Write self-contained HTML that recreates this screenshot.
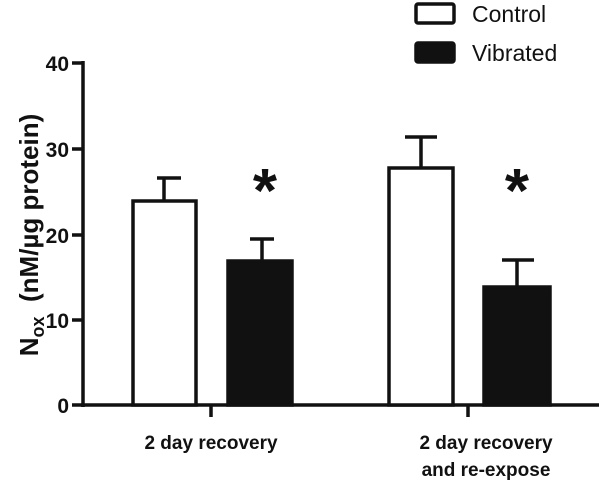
<!DOCTYPE html>
<html><head><meta charset="utf-8"><style>
html,body{margin:0;padding:0;background:#fff;}
svg{display:block;}
text{font-family:"Liberation Sans",sans-serif;fill:#111;}
</style></head><body>
<svg width="600" height="488" viewBox="0 0 600 488">
<g stroke="#111" stroke-width="3.5" fill="none">
<line x1="83" y1="61" x2="83" y2="407"/>
<line x1="81" y1="405" x2="599" y2="405"/>
<line x1="72" y1="63" x2="83" y2="63"/>
<line x1="72" y1="149" x2="83" y2="149"/>
<line x1="72" y1="235" x2="83" y2="235"/>
<line x1="72" y1="320" x2="83" y2="320"/>
<line x1="72" y1="405" x2="83" y2="405"/>
<line x1="211" y1="405" x2="211" y2="417"/>
<line x1="468" y1="405" x2="468" y2="417"/>
<line x1="164" y1="201" x2="164" y2="178"/><line x1="157" y1="178" x2="181" y2="178"/>
<line x1="262" y1="260" x2="262" y2="239"/><line x1="250" y1="239" x2="274" y2="239"/>
<line x1="421" y1="168" x2="421" y2="137"/><line x1="405" y1="137" x2="437" y2="137"/>
<line x1="517" y1="286" x2="517" y2="260"/><line x1="502" y1="260" x2="534" y2="260"/>
<rect x="133" y="201" width="63" height="204" fill="#fff"/>
<rect x="228" y="261" width="64" height="144" fill="#111"/>
<rect x="389" y="168" width="64" height="237" fill="#fff"/>
<rect x="484" y="287" width="66" height="118" fill="#111"/>
<rect x="416" y="4" width="38" height="19" rx="2" fill="#fff"/>
<rect x="416" y="43" width="38" height="19" rx="2" fill="#111"/>
</g>
<g font-weight="bold" font-size="21" text-anchor="end">
<text x="69" y="71">40</text>
<text x="69" y="157">30</text>
<text x="69" y="243">20</text>
<text x="69" y="328">10</text>
<text x="69" y="413">0</text>
</g>
<text x="265" y="212" font-size="62" font-weight="bold" text-anchor="middle">*</text>
<text x="517" y="212" font-size="62" font-weight="bold" text-anchor="middle">*</text>
<text x="472" y="22" font-size="23">Control</text>
<text x="472" y="61" font-size="23">Vibrated</text>
<g font-weight="bold" font-size="19" text-anchor="middle">
<text x="211" y="449">2 day recovery</text>
<text x="486" y="449">2 day recovery</text>
<text x="486" y="476">and re-expose</text>
</g>
<text transform="translate(38,235) rotate(-90)" font-weight="bold" font-size="26" text-anchor="middle" xml:space="preserve">N<tspan font-size="18" dy="6">ox</tspan><tspan dy="-6">  (nM/µg protein)</tspan></text>
</svg>
</body></html>
